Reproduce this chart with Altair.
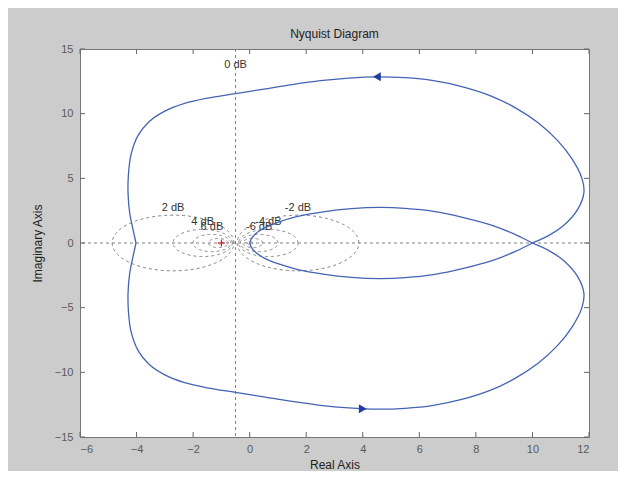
import altair as alt
import numpy as np
import pandas as pd

# ---- Nyquist curve ----
# positive-frequency branch: from (-4.02,0) down round the bottom to (10,0), then the upper inner loop to the origin
pos_re = [-4.02, -4.12, -4.24, -4.30, -4.29, -4.20, -3.95, -3.55, -3.00, -2.30, -1.50, -0.50, 0.50,
          1.50, 2.50, 3.50, 4.50, 5.50, 6.50, 7.50, 8.50, 9.40, 10.20, 10.90, 11.40, 11.75, 11.82, 11.60,
          11.10, 10.55, 10.00, 9.40, 8.60, 7.60, 6.50, 5.50, 4.60, 3.60, 2.60, 1.70, 1.00, 0.50, 0.20,
          0.05, 0.00]
pos_im = [0.00, -1.00, -2.30, -3.80, -5.20, -6.80, -8.30, -9.40, -10.20, -10.80, -11.20, -11.55, -11.90,
          -12.25, -12.55, -12.75, -12.85, -12.78, -12.55, -12.10, -11.40, -10.45, -9.30, -7.90,
          -6.50, -5.00, -3.90, -2.60, -1.35, -0.55, 0.00, 0.65, 1.35, 1.95, 2.45, 2.68, 2.75, 2.65, 2.40,
          2.05, 1.60, 1.15, 0.70, 0.30, 0.00]
# negative-frequency branch (mirror image)
neg_re = [-4.02, -4.12, -4.24, -4.30, -4.29, -4.20, -3.95, -3.55, -3.00, -2.30, -1.50, -0.50, 0.50,
          1.50, 2.50, 3.50, 4.50, 5.50, 6.50, 7.50, 8.50, 9.40, 10.20, 10.90, 11.40, 11.75, 11.82, 11.60,
          11.10, 10.55, 10.00, 9.40, 8.60, 7.60, 6.50, 5.50, 4.60, 3.60, 2.60, 1.70, 1.00, 0.50, 0.20,
          0.05, 0.00]
neg_im = [0.00, 1.00, 2.30, 3.80, 5.20, 6.80, 8.30, 9.40, 10.20, 10.80, 11.20, 11.55, 11.90,
          12.25, 12.55, 12.75, 12.85, 12.78, 12.55, 12.10, 11.40, 10.45, 9.30, 7.90,
          6.50, 5.00, 3.90, 2.60, 1.35, 0.55, 0.00, -0.65, -1.35, -1.95, -2.45, -2.68, -2.75, -2.65, -2.40,
          -2.05, -1.60, -1.15, -0.70, -0.30, 0.00]

# direction arrows
arrow_re = [4.5, 4.0]
arrow_im = [12.85, -12.82]
arrow_dir = ["left", "right"]

# M-circle grid (dB) and labels
grid_db = [2, -2, 4, -4, 6, -6, 10, -10, 20, -20]
label_db = [2, -2, 4, -4, 6, -6]
zero_db_re = [-0.5]
zero_db_label_im = [13.75]

x_ticks = [-6, -4, -2, 0, 2, 4, 6, 8, 10, 12]
y_ticks = [-15, -10, -5, 0, 5, 10, 15]

critical_re = [-1.0]
critical_im = [0.0]

W, H = 509, 388
FONT = "Liberation Sans"

# ---- tables ----
curve = pd.concat([
    pd.DataFrame({"re": pos_re, "im": pos_im, "branch": "pos", "i": range(len(pos_re))}),
    pd.DataFrame({"re": neg_re, "im": neg_im, "branch": "neg", "i": range(len(neg_re))}),
])

rows = []
t = np.linspace(0, 2 * np.pi, 181)
for db in grid_db:
    m = 10 ** (db / 20)
    c = m * m / (1 - m * m)
    r = abs(m / (1 - m * m))
    for k, tt in enumerate(t):
        rows.append({"db": db, "k": k, "re": c + r * np.cos(tt), "im": r * np.sin(tt)})
circles = pd.DataFrame(rows)

lab_rows = []
for db in label_db:
    m = 10 ** (db / 20)
    c = m * m / (1 - m * m)
    r = abs(m / (1 - m * m))
    lab_rows.append({"re": c, "im": r, "text": f"{db} dB"})
labels = pd.DataFrame(lab_rows)
zero_lab = pd.DataFrame({"re": zero_db_re, "im": zero_db_label_im, "text": ["0 dB"]})

arrows = pd.DataFrame({"re": arrow_re, "im": arrow_im, "dir": arrow_dir})
crit = pd.DataFrame({"re": critical_re, "im": critical_im})
xt = pd.DataFrame({"v": x_ticks})
yt = pd.DataFrame({"v": y_ticks})

xs = alt.Scale(domain=[-6, 12], nice=False, zero=False)
ys = alt.Scale(domain=[-15, 15], nice=False, zero=False)

x_axis = alt.Axis(values=x_ticks, ticks=False, domain=False, grid=False, labelPadding=6,
                  labelFont=FONT, labelFontSize=11, labelColor="#5a5a5a",
                  title="Real Axis", titleFont=FONT, titleFontSize=12, titleFontWeight="normal",
                  titleColor="#222222", titleX=W / 2, titleY=27, titleBaseline="middle", titleAlign="center")
y_axis = alt.Axis(values=y_ticks, ticks=False, domain=False, grid=False, labelPadding=7,
                  labelFont=FONT, labelFontSize=11, labelColor="#5a5a5a",
                  title="Imaginary Axis", titleFont=FONT, titleFontSize=12, titleFontWeight="normal",
                  titleColor="#222222", titleX=-43, titleY=H / 2, titleAngle=270,
                  titleBaseline="middle", titleAlign="center")

grid_lines = alt.Chart(circles).mark_line(strokeDash=[3, 3], color="#808080", strokeWidth=1, clip=True).encode(
    x=alt.X("re:Q", scale=xs, axis=x_axis),
    y=alt.Y("im:Q", scale=ys, axis=y_axis),
    detail="db:N",
    order="k:Q",
)

hline = alt.Chart(pd.DataFrame({"v": [0]})).mark_rule(strokeDash=[3, 3], color="#808080").encode(
    y=alt.Y("v:Q", scale=ys))
vline = alt.Chart(pd.DataFrame({"v": zero_db_re})).mark_rule(strokeDash=[3, 3], color="#808080").encode(
    x=alt.X("v:Q", scale=xs))

grid_text = alt.Chart(labels).mark_text(font=FONT, fontSize=11, color="#333333", baseline="alphabetic",
                                         dy=-4).encode(
    x=alt.X("re:Q", scale=xs), y=alt.Y("im:Q", scale=ys), text="text:N")
zero_text = alt.Chart(zero_lab).mark_text(font=FONT, fontSize=11, color="#333333", baseline="middle").encode(
    x=alt.X("re:Q", scale=xs), y=alt.Y("im:Q", scale=ys), text="text:N")

line = alt.Chart(curve).mark_line(color="#4463b5", strokeWidth=1.3, interpolate="catmull-rom").encode(
    x=alt.X("re:Q", scale=xs), y=alt.Y("im:Q", scale=ys), detail="branch:N", order="i:Q")

arrow_left = alt.Chart(arrows[arrows.dir == "left"]).mark_point(
    shape="triangle-left", filled=True, size=80, color="#1f3fa0", opacity=1).encode(
    x=alt.X("re:Q", scale=xs), y=alt.Y("im:Q", scale=ys))
arrow_right = alt.Chart(arrows[arrows.dir == "right"]).mark_point(
    shape="triangle-right", filled=True, size=80, color="#1f3fa0", opacity=1).encode(
    x=alt.X("re:Q", scale=xs), y=alt.Y("im:Q", scale=ys))

crit_mark = alt.Chart(crit).mark_point(shape="M-1,0L1,0M0,-1L0,1", size=50, color="#e02020",
                                       strokeWidth=1.2, opacity=1).encode(
    x=alt.X("re:Q", scale=xs), y=alt.Y("im:Q", scale=ys))

tick_col = "#666666"
x_top = alt.Chart(xt).mark_rule(color=tick_col).encode(
    x=alt.X("v:Q", scale=xs), y=alt.value(0), y2=alt.value(5))
x_bot = alt.Chart(xt).mark_rule(color=tick_col).encode(
    x=alt.X("v:Q", scale=xs), y=alt.value(H - 5), y2=alt.value(H))
y_left = alt.Chart(yt).mark_rule(color=tick_col).encode(
    y=alt.Y("v:Q", scale=ys), x=alt.value(0), x2=alt.value(5))
y_right = alt.Chart(yt).mark_rule(color=tick_col).encode(
    y=alt.Y("v:Q", scale=ys), x=alt.value(W - 5), x2=alt.value(W))

chart = alt.layer(
    grid_lines, hline, vline, grid_text, zero_text, line, arrow_left, arrow_right, crit_mark,
    x_top, x_bot, y_left, y_right,
).properties(
    width=W, height=H,
    title=alt.Title("Nyquist Diagram", font=FONT, fontSize=12, fontWeight="normal", color="#222222",
                    baseline="bottom", offset=10, dy=20, anchor="middle"),
    autosize=alt.AutoSizeParams(type="none"),
    padding={"left": 72, "top": 41, "right": 29, "bottom": 34},
).configure(background="#cccccc").configure_view(fill="white", stroke="#777777", strokeWidth=1)

chart.save("out.html", embed_options={"renderer": "svg", "actions": False})
